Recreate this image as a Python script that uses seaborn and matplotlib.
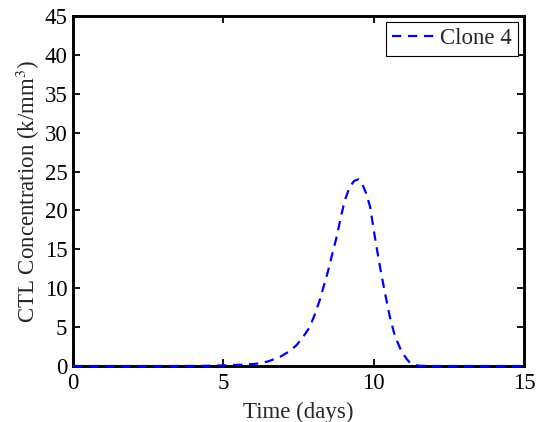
import matplotlib
matplotlib.use("Agg")
import matplotlib.pyplot as plt
import seaborn as sns
import pandas as pd

# CTL concentration of clone 4 over time
time_days = [0, 1, 2, 3, 4, 4.5, 5, 5.5, 6, 6.2, 6.5, 6.9, 7.2, 7.44, 7.7, 7.88,
             8.05, 8.21, 8.35, 8.49, 8.63, 8.77, 8.9, 9.04, 9.2, 9.35, 9.49, 9.62,
             9.75, 9.88, 10.04, 10.21, 10.38, 10.54, 10.71, 10.93, 11.1, 11.21,
             11.4, 11.54, 12, 13, 14, 15]
clone4 = [0, 0, 0, 0, 0.01, 0.03, 0.08, 0.15, 0.25, 0.35, 0.6, 1.2, 1.9, 2.7, 4.0, 5.05,
          6.7, 8.5, 10.4, 12.3, 14.5, 16.6, 19.0, 21.3, 23.0, 23.8, 24.0, 23.4,
          22.2, 20.5, 16.6, 12.75, 9.3, 6.3, 3.8, 1.85, 0.9, 0.4,
          0.1, 0.03, 0, 0, 0, 0]
series_label = "Clone 4"

x_ticks = [0, 5, 10, 15]
y_ticks = [0, 5, 10, 15, 20, 25, 30, 35, 40, 45]

sns.set_style("ticks")
plt.rcParams["font.family"] = ["Liberation Serif", "DejaVu Serif"]
plt.rcParams["mathtext.fontset"] = "stix"
FS = 16.5
plt.rcParams["font.size"] = FS

df = pd.DataFrame({"t": time_days, "v": clone4, "series": series_label})

fig = plt.figure(figsize=(5.43, 4.22), dpi=100)
ax = fig.add_axes([0.1344, 0.1327, 0.8306, 0.8294])

DASH = (4.2, 3.0)
sns.lineplot(data=df, x="t", y="v", hue="series", palette=["#0000ff"], ax=ax,
             linewidth=1.6, dashes=False, sort=False)
line = ax.get_lines()[0]
line.set_dashes(DASH)
line.set_clip_on(False)
line.set_zorder(3)

ax.set_xlim(0, 15)
ax.set_ylim(0, 45)
ax.set_xticks(x_ticks)
ax.set_yticks(y_ticks)
ax.tick_params(direction="in", length=5, width=1.3, top=True, right=True,
               labelsize=FS, colors="black")
ax.tick_params(axis="x", pad=5)
ax.tick_params(axis="y", pad=4)
for sp in ax.spines.values():
    sp.set_visible(True)
    sp.set_linewidth(2.1)
    sp.set_color("black")

ax.set_xlabel("Time (days)", fontsize=FS, labelpad=6)
ax.set_ylabel("CTL Concentration (k/mm$^3$)", fontsize=FS, labelpad=2)

handles, labels = ax.get_legend_handles_labels()
for h in handles:
    h.set_dashes(DASH)
leg = ax.legend(handles, labels, loc="upper right", fontsize=FS, frameon=True,
                fancybox=False, shadow=False, handlelength=1.9, handletextpad=0.2,
                borderpad=0.28, borderaxespad=0.25)
leg.get_frame().set_edgecolor("black")
leg.get_frame().set_linewidth(0.8)
leg.get_frame().set_alpha(1)

fig.savefig("out.png", dpi=100)
